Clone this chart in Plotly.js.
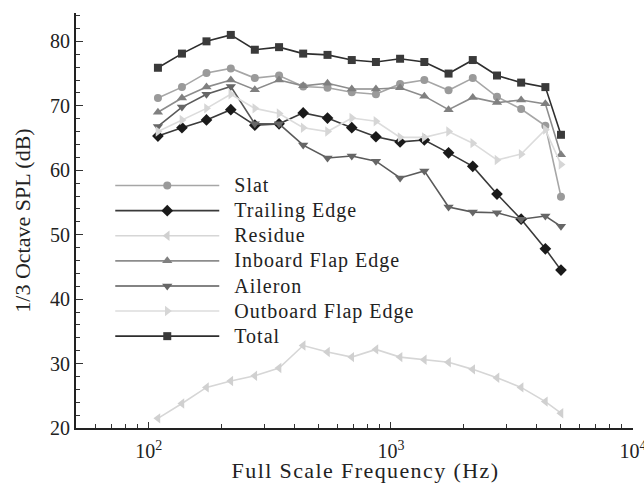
<!DOCTYPE html>
<html>
<head>
<meta charset="utf-8">
<script src="https://cdn.plot.ly/plotly-3.0.1.min.js"></script>
<style>
html,body{margin:0;padding:0;background:#fff;}
#chart{width:644px;height:483px;}
#chart .legend .scrollbox{clip-path:none !important;}
#chart .legendtext{font-size:20px !important;letter-spacing:1px;transform:translateX(10px);}
#chart .xtitle{letter-spacing:1.4px;transform:translateX(11px);}
</style>
</head>
<body>
<div id="chart"></div>
<script>
// Full-scale 1/3-octave band centre frequencies (Hz)
const freq = [109,137,173,218,274,345,434,547,689,867,1091,1374,1730,2178,2742,3451,4345,5040];

// 1/3 Octave SPL (dB) per source
const slat     = [71.2,72.9,75.1,75.8,74.3,74.7,73.0,72.8,72.1,71.8,73.4,74.0,72.4,74.3,71.4,69.5,66.9,55.9];
const trailing = [65.3,66.6,67.8,69.4,67.0,67.2,68.9,68.1,66.6,65.2,64.4,64.7,62.7,60.6,56.3,52.4,47.8,44.5];
const residue  = [21.5,23.8,26.3,27.3,28.1,29.3,32.8,31.8,31.0,32.2,31.0,30.6,30.2,29.1,27.8,26.3,24.1,22.3];
const inboard  = [69.0,71.2,72.9,74.0,72.5,74.0,73.1,73.5,72.6,72.6,72.8,71.5,69.4,71.3,70.5,70.9,70.3,62.4];
const aileron  = [66.8,69.8,71.8,73.0,67.2,67.2,63.9,61.9,62.2,61.4,58.8,59.9,54.3,53.5,53.4,52.4,52.9,51.3];
const outboard = [66.0,67.8,69.6,71.8,69.6,68.8,66.6,66.0,68.1,67.6,65.1,65.1,66.0,64.2,61.6,62.5,66.3,60.9];
const total    = [75.9,78.1,80.0,81.0,78.7,79.1,78.1,77.9,77.1,76.8,77.3,76.8,75.0,77.1,74.7,73.6,72.9,65.5];

const seriesNames = ['Slat','Trailing Edge','Residue','Inboard Flap Edge','Aileron','Outboard Flap Edge','Total'];
const seriesData  = [slat, trailing, residue, inboard, aileron, outboard, total];

// Axis tick labels
const xTickVals = [100, 1000, 10000];
const xTickText = ['10<sup>2</sup>', '10<sup>3</sup>', '10<sup>4</sup>'];
const xMinorVals = [60,70,80,90,200,300,400,500,600,700,800,900,2000,3000,4000,5000,6000,7000,8000,9000];
const yTickVals = [20,30,40,50,60,70,80];

const styles = [
  {line:'#a6a6a6', marker:'#9a9a9a', symbol:'circle', size:8},
  {line:'#3a3a3a', marker:'#1a1a1a', symbol:'diamond', size:9},
  {line:'#d6d6d6', marker:'#d0d0d0', symbol:'triangle-left', size:9},
  {line:'#8c8c8c', marker:'#808080', symbol:'triangle-up', size:9},
  {line:'#5a5a5a', marker:'#666666', symbol:'triangle-down', size:9},
  {line:'#dcdcdc', marker:'#d6d6d6', symbol:'triangle-right', size:9},
  {line:'#2e2e2e', marker:'#3a3a3a', symbol:'square', size:8}
];

const traces = seriesNames.map((name, i) => ({
  x: freq,
  y: seriesData[i],
  name: name,
  type: 'scatter',
  mode: 'lines+markers',
  line: {color: styles[i].line, width: 1.6},
  marker: {color: styles[i].marker, symbol: styles[i].symbol, size: styles[i].size}
}));

const fam = 'Liberation Serif, Times New Roman, serif';
const font = {family: fam, size: 20, color: '#222'};

const layout = {
  width: 644, height: 483,
  margin: {l: 76, r: 11, t: 13, b: 55},
  paper_bgcolor: '#fff', plot_bgcolor: '#fff',
  font: font,
  showlegend: true,
  legend: {
    x: 0.0615, y: 0.6265, xanchor: 'left', yanchor: 'top',
    bgcolor: 'rgba(0,0,0,0)', borderwidth: 0,
    font: {family: fam, size: 17, color: '#222'},
    itemwidth: 104, tracegroupgap: 0
  },
  xaxis: {
    type: 'log',
    range: [Math.log10(50), 4],
    tickmode: 'array', tickvals: xTickVals, ticktext: xTickText,
    ticks: 'inside', ticklen: 6, tickwidth: 1, tickcolor: '#333',
    ticklabeloverflow: 'allow', ticklabelstandoff: 4,
    showline: true, linecolor: '#222', linewidth: 2,
    showgrid: false, zeroline: false,
    minor: {tickmode: 'array', tickvals: xMinorVals, ticks: 'inside', ticklen: 4, tickcolor: '#333', showgrid: false},
    tickfont: {family: fam, size: 20, color: '#222'},
    title: {text: 'Full Scale Frequency (Hz)', font: {family: fam, size: 22, color: '#222'}, standoff: 11}
  },
  yaxis: {
    range: [20, 84.4],
    tickmode: 'array', tickvals: yTickVals,
    ticks: 'inside', ticklen: 7, tickwidth: 1, tickcolor: '#333',
    showline: true, linecolor: '#222', linewidth: 2,
    showgrid: false, zeroline: false,
    minor: {dtick: 2, ticks: 'inside', ticklen: 4, tickcolor: '#333', showgrid: false},
    tickfont: {family: fam, size: 20, color: '#222'},
    title: {text: '1/3 Octave SPL (dB)', font: {family: fam, size: 22, color: '#222'}, standoff: 13}
  }
};

Plotly.newPlot('chart', traces, layout, {displayModeBar: false, staticPlot: true});
</script>
</body>
</html>
